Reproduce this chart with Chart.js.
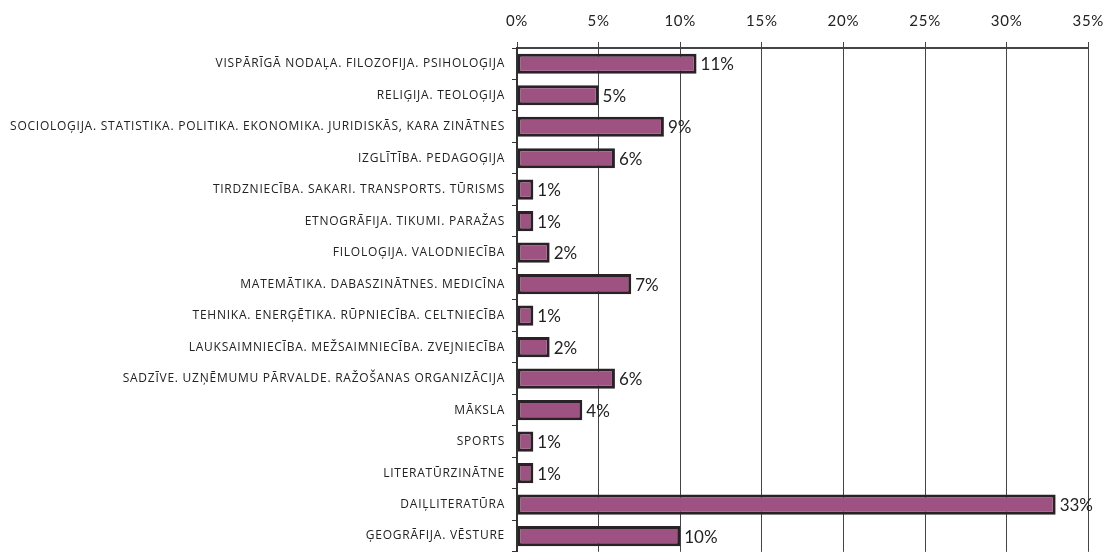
<!DOCTYPE html>
<html>
<head>
<meta charset="utf-8">
<script src="https://cdn.jsdelivr.net/npm/chart.js@4"></script>
<style>
  html, body { margin: 0; padding: 0; background: #fff; overflow: hidden; }
  #wrap { width: 1115px; height: 566px; }
</style>
</head>
<body>
<div id="wrap"><canvas id="chart"></canvas></div>
<script>
// nozares (kategorijas) un to daļa procentos
const categories = [
    "VISPĀRĪGĀ NODAĻA. FILOZOFIJA. PSIHOLOĢIJA",
    "RELIĢIJA. TEOLOĢIJA",
    "SOCIOLOĢIJA. STATISTIKA. POLITIKA. EKONOMIKA. JURIDISKĀS, KARA ZINĀTNES",
    "IZGLĪTĪBA. PEDAGOĢIJA",
    "TIRDZNIECĪBA. SAKARI. TRANSPORTS. TŪRISMS",
    "ETNOGRĀFIJA. TIKUMI. PARAŽAS",
    "FILOLOĢIJA. VALODNIECĪBA",
    "MATEMĀTIKA. DABASZINĀTNES. MEDICĪNA",
    "TEHNIKA. ENERĢĒTIKA. RŪPNIECĪBA. CELTNIECĪBA",
    "LAUKSAIMNIECĪBA. MEŽSAIMNIECĪBA. ZVEJNIECĪBA",
    "SADZĪVE. UZŅĒMUMU PĀRVALDE. RAŽOŠANAS ORGANIZĀCIJA",
    "MĀKSLA",
    "SPORTS",
    "LITERATŪRZINĀTNE",
    "DAIĻLITERATŪRA",
    "ĢEOGRĀFIJA. VĒSTURE"
];
const shares = [11, 5, 9, 6, 1, 1, 2, 7, 1, 2, 6, 4, 1, 1, 33, 10];
const xTicks = [0, 5, 10, 15, 20, 25, 30, 35];

// nedaudz izretināti burti asu uzrakstiem (kā oriģinālā)
const spacing = {
    id: "spacing",
    beforeDraw(chart) { chart.ctx.letterSpacing = "0.75px"; },
    afterDraw(chart) { chart.ctx.letterSpacing = "0px"; }
};

// procentu uzraksti pie stabiņu galiem
const valueLabels = {
    id: "valueLabels",
    afterDatasetsDraw(chart) {
        const ctx = chart.ctx;
        const meta = chart.getDatasetMeta(0);
        ctx.save();
        ctx.letterSpacing = "0px";
        ctx.font = "17px Lato";
        ctx.fillStyle = "#222";
        ctx.textAlign = "left";
        ctx.textBaseline = "middle";
        meta.data.forEach((bar, i) => {
            ctx.fillText(shares[i] + "%", bar.x + 4, bar.y + 1);
        });
        ctx.restore();
    }
};

new Chart(document.getElementById("chart"), {
    type: "bar",
    data: {
        labels: categories,
        datasets: [{
            data: shares,
            backgroundColor: "#9d5282",
            borderColor: "#2a2126",
            borderWidth: 3,
            borderSkipped: false,
            barPercentage: 0.64,
            categoryPercentage: 1
        }]
    },
    options: {
        indexAxis: "y",
        responsive: true,
        maintainAspectRatio: false,
        animation: false,
        layout: { padding: { left: 4, right: 0, top: 0, bottom: 6 } },
        plugins: {
            legend: { display: false },
            tooltip: { enabled: false }
        },
        scales: {
            x: {
                position: "top",
                min: 0,
                max: 35,
                afterBuildTicks: s => { s.ticks = xTicks.map(v => ({ value: v })); },
                afterFit: s => { s.height = 48; },
                ticks: {
                    callback: v => v + "%",
                    font: { family: "Lato", size: 15 },
                    color: "#222",
                    padding: 12
                },
                grid: { color: "#444", lineWidth: 1, tickLength: 6 },
                border: { color: "#444", width: 2 }
            },
            y: {
                afterFit: s => { s.width = 513; },
                ticks: {
                    font: { family: "Open Sans", size: 12 },
                    color: "#222",
                    padding: 7,
                    autoSkip: false
                },
                grid: { drawOnChartArea: false, color: "#333", tickLength: 5 },
                border: { color: "#333", width: 2 }
            }
        }
    },
    plugins: [spacing, valueLabels]
});
</script>
</body>
</html>
